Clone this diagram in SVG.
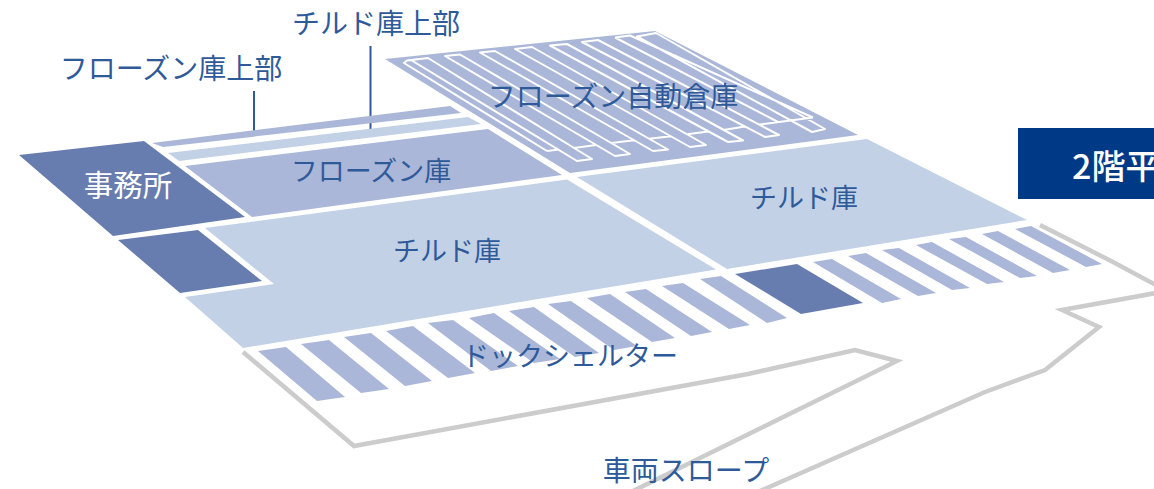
<svg xmlns="http://www.w3.org/2000/svg" width="1154" height="489" viewBox="0 0 1154 489">
<style>
text{font-family:"Noto Sans CJK JP","Noto Sans",sans-serif;font-size:28px;fill:#2f5a9a;text-anchor:middle;font-weight:400}
.c{fill:#c2d1e6}.f{fill:#aab7d8}.d{fill:#687daf}
.r{fill:none;stroke:#fff;stroke-width:2;stroke-linejoin:round}
.g{fill:none;stroke:#cccccc;stroke-width:4.5;stroke-linejoin:miter}
.l{fill:none;stroke:#2f5a9a;stroke-width:2}
</style>
<rect width="1154" height="489" fill="#fff"/>
<g id="connectors">
<path class="l" d="M254 91V133M370.5 46V133"/>
</g>
<g id="ramp">
<path class="g" d="M243 352L354 446L748 374L855 350L897 361L633 491"/>
<path class="g" d="M1040 225L1113 262L1156 285M1156 293L1062 310L1099 327L1045 370L985 392L760 491"/>
</g>
<g id="auto-warehouse">
<polygon class="f" points="385,59 655,31 858,135 570,173"/>
<path class="r" d="M547,151L404,63L407,60.5L428,58L592,159L577,161L411,60M547,151L559,149.5M574,148L596,145M445,56L460,54.5L630,154L615,156ZM611.3,143L634,140.2M480,52.5L495,51L668,149.5L653,151ZM649,138.7L670.8,136.2M515,49L532,47L706,145L690,147ZM686.9,134.2L708.4,131.4M550,45.5L567,44L743,140.5L728,142ZM723.6,129.9L744.9,126.6M582,42L598,40L779,135L765,137ZM759,124.6L813,117.5M615,37.5L630,35.5L813,117.5M615,37.5L778,122M637,36.5L656,33L825,129L812,132Z"/>
<text x="613" y="107">フローズン自動倉庫</text>
</g>
<g id="office">
<polygon class="d" points="19,155 144,141 245,217 113,236"/>
<text x="128" y="196" style="fill:#fff;font-size:29.5px">事務所</text>
</g>
<g id="dark-room"><polygon class="d" points="118,240 198,230 262,281 180,293"/></g>
<g id="frozen-upper"><polygon class="f" points="152,143 450,106 461,113 163,147"/></g>
<g id="chilled-upper"><polygon class="c" points="168,153 468,117 481,124 179,161"/></g>
<g id="frozen"><polygon class="f" points="185,166 488,129 562,175 252,217"/>
<text x="371" y="181" style="font-size:27px">フローズン庫</text></g>
<g id="chilled-main"><polygon class="c" points="205,228 567,179.5 716,269.5 243,348 185,297 274,284"/>
<text x="447" y="261" style="font-size:27px">チルド庫</text></g>
<g id="chilled-right"><polygon class="c" points="577,177 867,139 1027,220 727,269"/>
<text x="804" y="208" style="font-size:27px">チルド庫</text></g>
<g id="dock-shelter">
<path class="f" d="M258 351L286 347L345 397L317 401ZM301 344L329 340L389 389L361 393ZM344 337L371 333L432 381L405 386ZM386 331L413 326L475 373L448 378ZM428 323L453 320L518 366L491 371ZM469 318L494 313L560 359L534 363ZM509 311L534 307L599 353L575 357ZM548 304L571 301L637 346L614 350ZM587 298L610 294L675 338L652 342ZM625 292L646 289L712 332L691 336ZM662 286L683 283L750 325L729 329ZM700 279L721 276L787 318L767 323Z"/>
<polygon class="d" points="735,274 797,264 863,303 801,314"/>
<path class="f" d="M813 262L832 259L901 299L882 303ZM848 256L866 253L936 293L918 296ZM882 250L899 248L970 288L952 290ZM916 245L932 242L1004 282L987 284ZM949 239L966 237L1037 276L1020 278ZM982 234L998 231L1070 270L1053 273ZM1015 229L1031 226L1102 264L1086 267Z"/>
<text x="570" y="366" style="font-size:27px">ドックシェルター</text>
</g>
<g id="labels">
<text x="171" y="79">フローズン庫上部</text>
<text x="376" y="34">チルド庫上部</text>
<text x="686" y="481">車両スロープ</text>
</g>
<g id="title">
<rect x="1018" y="128" width="136" height="71" fill="#003a87"/>
<text x="1072" y="179" style="fill:#fff;font-size:34px;text-anchor:start;font-weight:500">2階平</text>
</g>
</svg>
